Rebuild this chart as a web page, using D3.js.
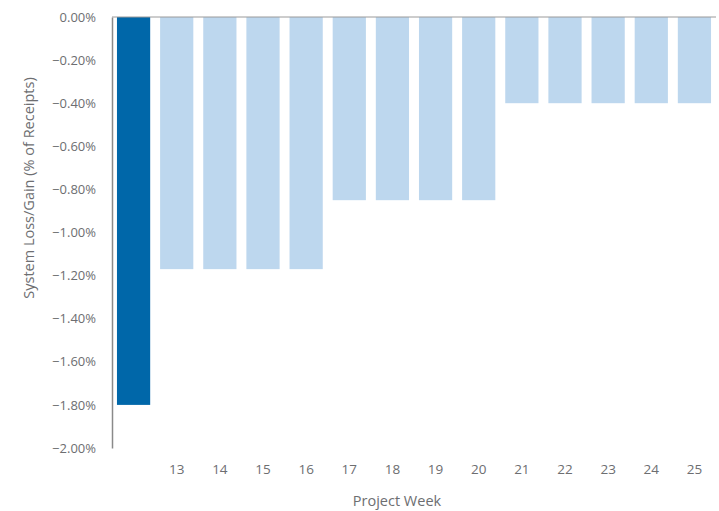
<!DOCTYPE html>
<html><head><meta charset="utf-8">
<script src="https://cdn.jsdelivr.net/npm/d3@7"></script>
<style>body{margin:0;background:#fff;} text{font-family:"Open Sans","Noto Sans",sans-serif;}</style>
</head><body>
<svg id="c" width="719" height="511"></svg>
<script>
const categories = ["", "13", "14", "15", "16", "17", "18", "19", "20", "21", "22", "23", "24", "25"];
const values = [-1.80, -1.17, -1.17, -1.17, -1.17, -0.85, -0.85, -0.85, -0.85, -0.40, -0.40, -0.40, -0.40, -0.40];
const highlight = [true, false, false, false, false, false, false, false, false, false, false, false, false, false];
const yTicks = [0, -0.2, -0.4, -0.6, -0.8, -1.0, -1.2, -1.4, -1.6, -1.8, -2.0];

const svg = d3.select("#c");
const mLeft = 112, mRight = 716, mTop = 17, mBottom = 448;
const x = d3.scaleBand().domain(categories).range([mLeft, mRight]).paddingInner(0.23).paddingOuter(0.115);
const y = d3.scaleLinear().domain([0, -2]).range([mTop, mBottom]);

svg.selectAll("rect.bar").data(values).enter().append("rect")
  .attr("class","bar")
  .attr("x",(d,i)=>x(categories[i]))
  .attr("width",x.bandwidth())
  .attr("y",y(0))
  .attr("height",d=>y(d)-y(0))
  .attr("fill",(d,i)=>highlight[i] ? "#0067A9" : "#BDD7EE");

// y axis
const ya = svg.append("g").attr("transform",`translate(${mLeft},0)`)
  .call(d3.axisLeft(y).tickValues(yTicks).tickSize(0).tickPadding(16).tickFormat(d=>d3.format(".2f")(d)+"%"));
ya.select(".domain").attr("stroke","#8a8a8a").attr("stroke-width",1.5);
ya.selectAll("text").attr("fill","#6d6e71").style("font-size","13px").attr("font-family","'Open Sans','Noto Sans',sans-serif");

// zero line at top
svg.append("line").attr("x1",mLeft).attr("x2",mRight).attr("y1",y(0)).attr("y2",y(0)).attr("stroke","#9a9a9a").attr("stroke-width",1);

// x axis labels at bottom
const xa = svg.append("g").attr("transform",`translate(0,${mBottom})`)
  .call(d3.axisBottom(x).tickSize(0).tickPadding(16));
xa.select(".domain").remove();
xa.selectAll("text").attr("fill","#6d6e71").style("font-size","13.5px").attr("font-family","'Open Sans','Noto Sans',sans-serif");

svg.append("text").attr("x",397).attr("y",506).attr("text-anchor","middle")
  .attr("fill","#6d6e71").style("font-size","14.5px").text("Project Week");
svg.append("text").attr("transform","translate(34,188) rotate(-90)").attr("text-anchor","middle")
  .attr("fill","#6d6e71").style("font-size","14.5px").text("System Loss/Gain (% of Receipts)");
</script>
</body></html>
